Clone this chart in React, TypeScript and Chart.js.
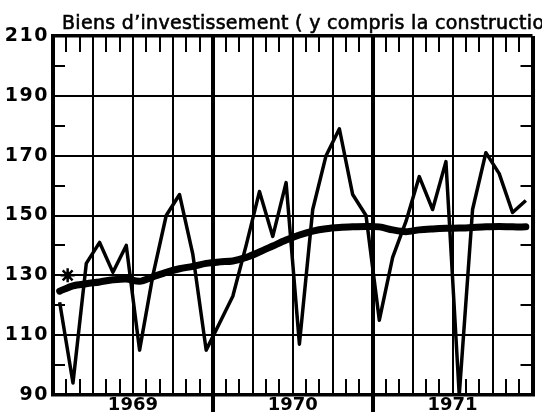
import React, { useEffect, useRef } from 'react';
import { Chart, registerables } from 'chart.js';

Chart.register(...registerables);

// ---- Data ----
const TITLE = 'Biens d’investissement ( y compris la construction )';
const YEARS = ['1969', '1970', '1971'];
const MONTHS = ['J', 'F', 'M', 'A', 'M', 'J', 'J', 'A', 'S', 'O', 'N', 'D'];

const INDEX_1969 = [121, 94, 134, 141, 131, 140, 105, 130, 150, 157, 137, 105];
const INDEX_1970 = [114, 123, 140, 158, 143, 161, 107, 152, 170, 179, 157, 150];
const INDEX_1971 = [115, 136, 148, 163, 152, 168, 90, 152, 171, 164, 151, 155];

const TREND_1969 = [124.7, 126.5, 127.2, 127.8, 128.5, 128.8, 128, 129.5, 131, 132.2, 133, 134];
const TREND_1970 = [134.5, 134.8, 136, 137.8, 139.8, 141.8, 143.5, 144.8, 145.6, 146, 146.2, 146.3];
const TREND_1971 = [146.2, 145.2, 144.6, 145.2, 145.5, 145.7, 145.8, 146, 146.2, 146.3, 146.2, 146.2];

// asterisk mark (month position within 1969, value)
const MARK_MONTH = 0.6;
const MARK_VALUE = 130;

const Y_MIN = 90;
const Y_MAX = 210;
const Y_STEP = 20;

// ---- helpers ----
const CATEGORIES = YEARS.flatMap((y) => MONTHS.map((m) => `${m} ${y}`));
const INDEX = [...INDEX_1969, ...INDEX_1970, ...INDEX_1971];
const TREND = [...TREND_1969, ...TREND_1970, ...TREND_1971];
const toPoints = (vals: number[]) => vals.map((v, i) => ({ x: i + 0.5, y: v }));
const N_MONTHS = CATEGORIES.length;

const decor = {
  id: 'decor',
  beforeDatasetsDraw(chart: any) {
    const { ctx, chartArea: a, scales } = chart;
    const x = scales.x;
    const y = scales.y;
    ctx.save();
    ctx.strokeStyle = '#000';
    ctx.lineWidth = 2;
    ctx.beginPath();
    for (let m = 1; m < N_MONTHS; m++) {
      if (m % 3 === 0) continue;
      const px = Math.round(x.getPixelForValue(m));
      ctx.moveTo(px, a.top);
      ctx.lineTo(px, a.top + 16);
      ctx.moveTo(px, a.bottom);
      ctx.lineTo(px, a.bottom - 16);
    }
    for (let v = Y_MIN + Y_STEP / 2; v < Y_MAX; v += Y_STEP) {
      const py = Math.round(y.getPixelForValue(v));
      ctx.moveTo(a.left, py);
      ctx.lineTo(a.left + 12, py);
      ctx.moveTo(a.right, py);
      ctx.lineTo(a.right - 12, py);
    }
    ctx.stroke();
    ctx.lineWidth = 4;
    ctx.beginPath();
    for (let k = 1; k < YEARS.length; k++) {
      const px = Math.round(x.getPixelForValue(k * 12));
      ctx.moveTo(px, a.bottom);
      ctx.lineTo(px, a.bottom + 17);
    }
    ctx.stroke();
    ctx.restore();
  },
  afterDatasetsDraw(chart: any) {
    // wider letter spacing for the y-axis numbers (drawn in a later layer)
    (chart.ctx as any).letterSpacing = '1.5px';
  },
  afterDraw(chart: any) {
    const { ctx, chartArea: a } = chart;
    (ctx as any).letterSpacing = '0px';
    ctx.save();
    (ctx as any).letterSpacing = '0.3px';
    ctx.fillStyle = '#000';
    ctx.strokeStyle = '#000';
    ctx.lineWidth = 0.6;
    ctx.font = '19px "DejaVu Sans"';
    ctx.textAlign = 'left';
    ctx.textBaseline = 'alphabetic';
    ctx.fillText(TITLE, a.left + 9, a.top - 7);
    ctx.strokeText(TITLE, a.left + 9, a.top - 7);
    ctx.restore();
    (ctx as any).letterSpacing = '0px';
  },
};

export default function App() {
  const ref = useRef<HTMLCanvasElement | null>(null);

  useEffect(() => {
    if (!ref.current) return;
    const tickFont = { family: 'DejaVu Sans', weight: 'bold' as const, size: 18 };
    const chart = new Chart(ref.current, {
      type: 'line',
      data: {
        datasets: [
          {
            label: 'Indice mensuel',
            data: toPoints(INDEX),
            borderColor: '#000',
            borderWidth: 3.5,
            pointRadius: 0,
            tension: 0,
            borderJoinStyle: 'round',
            fill: false,
          },
          {
            label: 'Tendance',
            data: toPoints(TREND),
            borderColor: '#000',
            borderWidth: 7,
            pointRadius: 0,
            tension: 0.3,
            borderCapStyle: 'round',
            fill: false,
          },
          {
            label: 'Repère',
            data: [{ x: MARK_MONTH + 0.5, y: MARK_VALUE }],
            showLine: false,
            pointStyle: 'star',
            pointRadius: 7,
            pointBorderWidth: 2.5,
            borderColor: '#000',
            backgroundColor: '#000',
          },
        ],
      },
      options: {
        responsive: false,
        animation: false,
        events: [],
        layout: { padding: { top: 36, right: 4, left: 0, bottom: 0 } },
        plugins: {
          legend: { display: false },
          title: { display: false },
          tooltip: { enabled: false },
        },
        scales: {
          x: {
            type: 'linear',
            min: 0,
            max: N_MONTHS,
            afterFit: (s: any) => {
              s.height = 25;
            },
            border: { display: true, color: '#000', width: 3.5 },
            grid: {
              drawTicks: false,
              color: (c: any) => (c.tick && c.tick.value % 3 === 0 ? '#000' : 'rgba(0,0,0,0)'),
              lineWidth: (c: any) =>
                c.tick && c.tick.value % 12 === 0 ? 4 : 2,
            },
            ticks: {
              stepSize: 1,
              autoSkip: false,
              maxRotation: 0,
              minRotation: 0,
              padding: 0,
              color: '#000',
              font: tickFont,
              callback: (v: any) => {
                const n = Number(v);
                if ((n - 6) % 12 === 0) return YEARS[(n - 6) / 12] ?? '';
                return '';
              },
            },
          },
          y: {
            min: Y_MIN,
            max: Y_MAX,
            afterFit: (s: any) => {
              s.width = 53;
            },
            border: { display: true, color: '#000', width: 4 },
            grid: {
              drawTicks: false,
              color: '#000',
              lineWidth: (c: any) => (c.tick && c.tick.value === Y_MAX ? 3.5 : 2),
            },
            ticks: {
              stepSize: Y_STEP,
              padding: 4,
              z: 1,
              color: '#000',
              font: { ...tickFont, size: 19 },
            },
          },
        },
      },
      plugins: [decor],
    });
    return () => chart.destroy();
  }, []);

  return (
    <div style={{ position: 'fixed', left: 0, top: 0, width: 542, height: 420, background: '#fff' }}>
      <canvas ref={ref} width={542} height={420} style={{ display: 'block' }} />
    </div>
  );
}
